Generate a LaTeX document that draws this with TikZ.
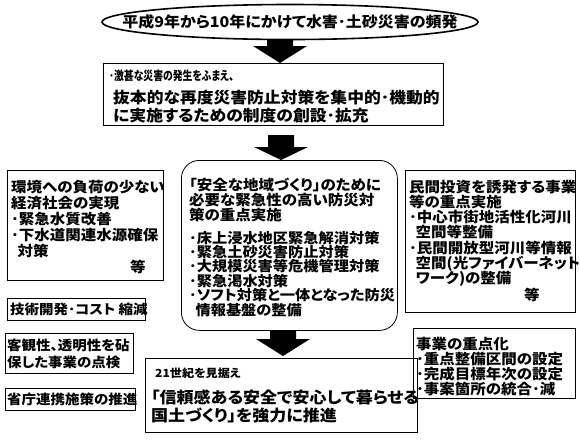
\documentclass[tikz,border=0pt]{standalone}
\usepackage{fontspec}
\setmainfont{Noto Sans CJK JP}[RawFeature=+palt, FakeStretch=1.08]
\newfontfamily\condfont{Noto Sans CJK JP}[RawFeature=+palt, FakeStretch=0.8]
\usetikzlibrary{calc,shapes.geometric}
\newcommand\blkarrow[3]{%
  \fill[shift={(#1)}] (-13,{-(#2+#3)}) -- (13,{-(#2+#3)}) -- (13,-#3) -- (27,-#3) -- (0,0) -- (-27,-#3) -- (-13,-#3) -- cycle;}
\newcommand\fsz[2]{\fontsize{#1}{#2}\selectfont\bfseries\lineskiplimit=-50pt\lineskip=0pt}
\begin{document}
\begin{tikzpicture}[x=1pt,y=-1pt,
  box/.style={draw, line width=0.8pt, inner sep=0pt, anchor=north west},
  txt/.style={anchor=base west, inner sep=0pt, align=left, font=\fsz{14.35}{15.5}},
  small/.style={anchor=base west, inner sep=0pt, font=\condfont\fsz{12.3}{12}}]
\useasboundingbox (0,0) rectangle (580,440);
% top ellipse
\node[draw, ellipse, line width=1.6pt, minimum width=376pt, minimum height=35pt, inner sep=0pt] (ev) at (290,22) {};
\node[inner sep=0pt, font=\fsz{14.8}{16}] (evt) at (ev.center) {平成9年から10年にかけて水害･土砂災害の頻発};
% box 2
\node[box, minimum width=340pt, minimum height=62pt] (b2) at (103,63) {};
\node[small] (b2a) at (109,80) {･激甚な災害の発生をふまえ、};
\node[txt, font=\fsz{15.55}{18.5}] (b2b) at (113,121.5) {抜本的な再度災害防止対策を集中的･機動的\\に実施するための制度の創設･拡充};
% left box
\node[box, minimum width=156pt, minimum height=110pt] (lb) at (7,170) {};
\node[txt, font=\fsz{14.35}{16}] (lbt) at (11,256) {環境への負荷の少ない\\経済社会の実現\\･緊急水質改善\\･下水道関連水源確保\\\hspace*{0.45em}対策};
\node[txt] (lbe) at (130,272) {等};
% center rounded box
\node[box, rounded corners=18pt, minimum width=216pt, minimum height=170pt] (cb) at (181,160) {};
\node[txt, font=\fsz{14.35}{15}] (cbh) at (189,220) {「安全な地域づくり」のために\\必要な緊急性の高い防災対\\策の重点実施};
\node[txt, font=\fsz{14.1}{14.4}] (cbl) at (189,315) {･床上浸水地区緊急解消対策\\･緊急土砂災害防止対策\\･大規模災害等危機管理対策\\･緊急渇水対策\\･ソフト対策と一体となった防災\\\hspace*{0.45em}情報基盤の整備};
% right box
\node[box, minimum width=170pt, minimum height=142pt] (rb) at (405,170) {};
\node[txt, font=\fsz{14.35}{15.3}] (rbt) at (409,283.8) {民間投資を誘発する事業\\等の重点実施\\･中心市街地活性化河川\\\hspace*{0.45em}空間等整備\\･民間開放型河川等情報\\\hspace*{0.45em}空間(光ファイバーネット\\\hspace*{0.45em}ワーク)の整備};
\node[txt] (rbe) at (524,300) {等};
% left small boxes
\node[box, minimum width=138pt, minimum height=22pt] (s1) at (7,298) {};
\node[txt, font=\fsz{13.4}{15}] (s1t) at (10,314) {技術開発･コスト 縮減};
\node[box, minimum width=128pt, minimum height=40pt] (s2) at (5,333) {};
\node[txt, font=\fsz{13.4}{17}] (s2t) at (7,367) {客観性、透明性を砧\\保した事業の点検};
\node[box, minimum width=130pt, minimum height=22pt] (s3) at (5,388) {};
\node[txt, font=\fsz{13.4}{15}] (s3t) at (7,404) {省庁連携施策の推進};
% bottom center box
\node[box, minimum width=272pt, minimum height=74pt] (bc) at (145,358) {};
\node[anchor=base west, inner sep=0pt, font=\fsz{11.2}{12}] (bca) at (155,377) {21世紀を見据え};
\node[txt, font=\fsz{15.75}{18}] (bcb) at (151,421) {「信頼感ある安全で安心して暮らせる\\国土づくり」を強力に推進};
% right bottom box
\node[box, minimum width=162pt, minimum height=70pt] (rq) at (413,328) {};
\node[txt, font=\fsz{14.35}{15.3}] (rqt) at (416,394.9) {事業の重点化\\･重点整備区間の設定\\･完成目標年次の設定\\･事案箇所の統合･減};
% block arrows
\coordinate (t1) at ($(b2.north west)+(177,0)$);
\coordinate (t2) at ($(cb.north west)+(100,0)$);
\coordinate (t3) at ($(bc.north west)+(138,-2)$);
\blkarrow{t1}{6}{17}
\blkarrow{t2}{12}{13}
\blkarrow{t3}{8}{17}
\end{tikzpicture}
\end{document}
